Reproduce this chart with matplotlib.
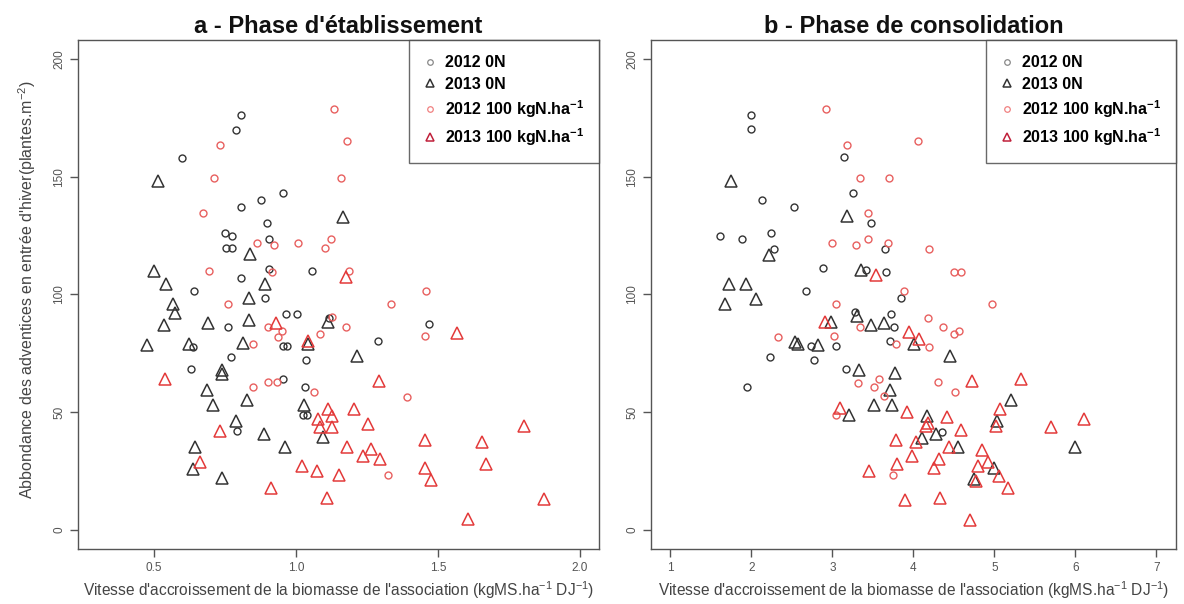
import matplotlib
matplotlib.use("Agg")
import matplotlib.pyplot as plt
from matplotlib.lines import Line2D

plt.rcParams['font.family'] = ['Liberation Sans', 'DejaVu Sans']
plt.rcParams['mathtext.default'] = 'regular'

# ---------------- Panel a : Phase d'établissement ----------------
a_2012_0N_x = [0.808, 0.79, 0.597, 0.954, 0.876, 0.806, 0.897, 0.75, 0.773, 0.905, 0.752, 0.776,
               0.904, 1.056, 0.806, 0.641, 0.892, 0.964, 1.002, 0.759, 0.638, 0.954, 0.968, 0.77,
               1.037, 0.629, 0.956, 1.032, 1.025, 1.04, 0.792, 1.118, 1.47, 1.29]
a_2012_0N_y = [176.2, 170, 158, 143, 140, 137, 130.2, 126.2, 125, 123.5, 119.6, 119.6,
               111, 110, 106.8, 101.4, 98.3, 91.9, 91.9, 86.2, 77.8, 78, 78, 73.5,
               72.4, 68.2, 64, 60.9, 48.9, 48.9, 41.9, 90.0, 87.5, 80.2]

a_2013_0N_x = [0.515, 1.165, 0.837, 0.501, 0.541, 0.892, 0.833, 0.566, 0.575, 0.536, 0.689, 0.833,
               0.474, 0.623, 0.813, 1.043, 1.112, 1.216, 0.741, 0.738, 0.685, 0.708, 0.826, 1.028,
               0.789, 0.888, 0.963, 0.644, 0.638, 0.74, 1.097]
a_2013_0N_y = [148, 132.9, 117, 110, 104.5, 104.5, 98.3, 96, 92.1, 87.2, 87.9, 89,
               78.4, 78.8, 79.5, 79, 88.3, 73.8, 67.8, 66.1, 59.4, 53, 55.1, 53.2,
               46.4, 41, 35.1, 35.1, 26, 22.2, 39.4]

a_2012_100_x = [1.134, 0.733, 1.179, 0.711, 1.158, 0.672, 0.864, 0.922, 1.007, 1.124, 1.102, 0.694,
                0.916, 1.186, 0.761, 1.458, 1.336, 0.9, 0.952, 0.937, 0.849, 1.126, 1.175, 1.456,
                1.086, 0.903, 0.933, 0.849, 1.062, 1.392, 1.323]
a_2012_100_y = [178.6, 163.4, 165, 149.5, 149.5, 134.6, 121.8, 121, 121.8, 123.5, 119.6, 109.8,
                109.4, 110.1, 95.8, 101.6, 95.9, 86.2, 84.4, 81.9, 79, 90.3, 86.2, 82.3,
                83.4, 62.9, 62.9, 60.9, 58.8, 56.7, 23.6]

a_2013_100_x = [1.177, 0.929, 1.043, 0.539, 0.734, 0.663, 1.021, 1.075, 0.911, 1.569, 1.294, 1.112,
                1.126, 1.077, 1.086, 1.126, 1.206, 1.253, 1.456, 1.655, 1.805, 1.179, 1.265, 1.236,
                1.297, 1.15, 1.456, 1.476, 1.671, 1.109, 1.608, 1.874]
a_2013_100_y = [107.6, 87.9, 80.2, 64, 42.2, 28.8, 27.4, 25.3, 17.8, 83.7, 63.3, 51.3,
                48.5, 47.1, 43.6, 43.9, 51.3, 45, 38.3, 37.3, 44.3, 35.1, 34.5, 31.6,
                30, 23.5, 26.3, 21.1, 28.1, 13.8, 4.6, 13.1]

# ---------------- Panel b : Phase de consolidation ----------------
b_2012_0N_x = [1.993, 1.993, 3.144, 3.259, 2.136, 2.53, 3.481, 1.615, 1.889, 2.238, 2.283, 3.648,
               2.886, 3.41, 3.662, 2.681, 3.275, 3.727, 3.85, 3.767, 2.743, 3.05, 3.706, 2.23,
               2.771, 3.173, 1.943, 4.35]
b_2012_0N_y = [176.2, 170.2, 158.2, 143, 140, 137.1, 130.4, 125, 123.4, 126.2, 119.5, 119.5,
               111.1, 110.4, 109.7, 101.3, 92.4, 91.9, 98.4, 86.1, 78, 78, 80.2, 73.4,
               72.4, 68.2, 60.9, 41.5]

b_2013_0N_x = [1.75, 3.186, 2.221, 3.35, 1.729, 1.935, 1.68, 2.054, 3.3, 2.989, 3.481, 3.644,
               2.538, 2.578, 2.824, 3.325, 3.768, 3.718, 3.513, 3.739, 3.206, 4.014, 4.456, 5.21,
               4.169, 5.038, 4.28, 4.108, 4.554, 5.994, 4.99, 4.752]
b_2013_0N_y = [148, 133.2, 116.7, 110.4, 104.5, 104.5, 95.9, 98.2, 91, 88.3, 87.2, 87.9,
               79.9, 79, 78.5, 67.9, 66.5, 59.4, 53.2, 53.2, 48.9, 79, 74.1, 55.3,
               48.5, 46.1, 40.8, 39.1, 35.1, 35.1, 26.3, 21.8]

b_2012_100_x = [2.927, 3.181, 3.337, 3.698, 3.439, 2.996, 3.296, 3.439, 3.685, 4.054, 4.19, 4.506,
                4.588, 3.89, 4.969, 3.05, 4.177, 3.346, 2.325, 3.017, 3.78, 4.362, 4.506, 4.567,
                4.198, 3.316, 3.571, 3.513, 3.632, 3.05, 3.755, 4.30, 4.518]
b_2012_100_y = [178.6, 163.6, 149.5, 149.5, 134.6, 121.9, 121, 123.4, 121.9, 165, 119.5, 109.7,
                109.7, 101.6, 95.9, 95.9, 90, 86.1, 82, 82.3, 79, 86.2, 83.4, 84.4,
                77.8, 62.6, 64, 60.8, 57, 48.9, 23.6, 63, 58.8]

b_2013_100_x = [3.543, 2.907, 3.1, 3.78, 3.451, 3.795, 3.944, 4.066, 4.718, 5.325, 3.924, 5.068,
                4.157, 4.177, 4.41, 5.018, 4.588, 5.695, 6.105, 4.034, 4.435, 4.843, 3.98, 4.313,
                4.80, 4.915, 4.25, 5.059, 4.77, 5.174, 3.903, 4.33, 4.699]
b_2013_100_y = [108.3, 88.3, 51.8, 38.3, 25.3, 28.1, 84.1, 81.3, 63.3, 64, 50.2, 51.3,
                44.3, 45.3, 48.1, 44.3, 42.5, 43.6, 47.1, 37.3, 35.1, 34.2, 31.6, 30.2,
                27.4, 28.8, 26.3, 22.9, 21, 17.8, 12.9, 13.8, 4.5]

legend_labels = ['2012 0N', '2013 0N', r'2012 100 kgN.ha$^{-1}$', r'2013 100 kgN.ha$^{-1}$']
titles = ["a - Phase d'établissement", "b - Phase de consolidation"]
xticks_a = [0.5, 1.0, 1.5, 2.0]
xticks_b = [1, 2, 3, 4, 5, 6, 7]
yticks = [0, 50, 100, 150, 200]
xlabel = r"Vitesse d'accroissement de la biomasse de l'association (kgMS.ha$^{-1}$ DJ$^{-1}$)"
ylabel = r"Abbondance des adventices en entrée d'hiver(plantes.m$^{-2}$)"

BLACK = '#333333'
RED_C = '#e8605f'
RED_T = '#e33a3a'
AXC = '#555555'

fig = plt.figure(figsize=(11.84, 6.04), dpi=100)
ax_a = fig.add_axes([0.0659, 0.0911, 0.4400, 0.8427])
ax_b = fig.add_axes([0.5496, 0.0911, 0.4436, 0.8427])

def draw(ax, d, xlim, xt, xtl, title):
    (x1, y1), (x2, y2), (x3, y3), (x4, y4) = d
    ax.plot(x1, y1, 'o', ls='none', mfc='none', mec=BLACK, ms=5, mew=1.0)
    ax.plot(x2, y2, '^', ls='none', mfc='none', mec=BLACK, ms=8.5, mew=1.1)
    ax.plot(x3, y3, 'o', ls='none', mfc='none', mec=RED_C, ms=5, mew=1.0)
    ax.plot(x4, y4, '^', ls='none', mfc='none', mec=RED_T, ms=8.5, mew=1.1)
    ax.set_xlim(*xlim)
    ax.set_ylim(-8, 208)
    ax.set_xticks(xt)
    ax.set_xticklabels(xtl)
    ax.set_yticks(yticks)
    ax.set_yticklabels([str(v) for v in yticks], rotation=90, va='center')
    ax.tick_params(axis='both', direction='out', length=6, width=1, color=AXC,
                   labelcolor='#555555', labelsize=8.5)
    ax.tick_params(axis='x', pad=3.5)
    ax.tick_params(axis='y', pad=3)
    for s in ax.spines.values():
        s.set_color(AXC)
        s.set_linewidth(1.0)
    ax.set_title(title, fontsize=17, fontweight='bold', pad=5, color='#111111')
    ax.set_xlabel(xlabel, fontsize=11.2, color='#444444')
    ax.xaxis.label.set_va('center')
    ax.xaxis.set_label_coords(0.5, -0.081)
    handles = [
        Line2D([], [], marker='o', ls='none', mfc='none', mec='#888888', ms=4, mew=0.9),
        Line2D([], [], marker='^', ls='none', mfc='none', mec=BLACK, ms=6, mew=1.1),
        Line2D([], [], marker='o', ls='none', mfc='none', mec='#f08080', ms=4, mew=0.9),
        Line2D([], [], marker='^', ls='none', mfc='none', mec='#c0203a', ms=6, mew=1.1),
    ]
    leg = ax.legend(handles, legend_labels, loc='upper right', borderaxespad=0,
                    prop={'weight': 'bold', 'size': 11.5}, frameon=True, fancybox=False,
                    edgecolor='#444444', handlelength=0.7, handletextpad=0.6,
                    labelspacing=0.4, borderpad=0.95)
    leg.get_frame().set_linewidth(1.0)

draw(ax_a, [(a_2012_0N_x, a_2012_0N_y), (a_2013_0N_x, a_2013_0N_y),
            (a_2012_100_x, a_2012_100_y), (a_2013_100_x, a_2013_100_y)],
     (0.232, 2.068), xticks_a, ['0.5', '1.0', '1.5', '2.0'], titles[0])
draw(ax_b, [(b_2012_0N_x, b_2012_0N_y), (b_2013_0N_x, b_2013_0N_y),
            (b_2012_100_x, b_2012_100_y), (b_2013_100_x, b_2013_100_y)],
     (0.76, 7.24), xticks_b, [str(v) for v in xticks_b], titles[1])

ax_a.set_ylabel(ylabel, fontsize=11.5, color='#444444')
ax_a.yaxis.label.set_va('center')
ax_a.yaxis.set_label_coords(-0.098, 0.51)

fig.savefig('out.png', dpi=100)
